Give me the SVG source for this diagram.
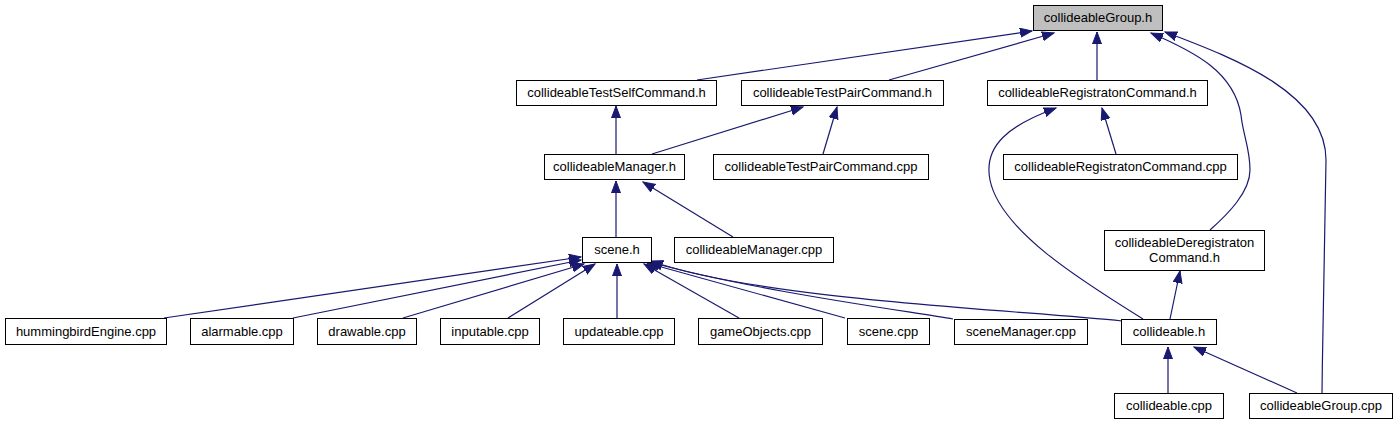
<svg xmlns="http://www.w3.org/2000/svg" width="1397" height="425" viewBox="0 0 1397 425">
<style>
.n rect{fill:#fff;stroke:#000;stroke-width:1}
.n text{font-family:"Liberation Sans",Arial,sans-serif;font-size:13px;text-anchor:middle;fill:#000}
#edges path{fill:none;stroke:#191970;stroke-width:1.2;marker-end:url(#ah)}
</style>
<defs>
<marker id="ah" markerWidth="14" markerHeight="12" refX="12" refY="5" orient="auto" markerUnits="userSpaceOnUse">
<path d="M0,0.5 L12,5 L0,9.5 Z" fill="#191970" stroke="#191970" stroke-width="1"/>
</marker>
</defs>
<rect width="1397" height="425" fill="#fff"/>
<g id="edges">
<path d="M697,80 L1032,31"/>
<path d="M889,80 L1054,33"/>
<path d="M1097,80 L1097,32"/>
<path d="M1210,230 C1228,214 1250,192 1250,170 C1250,148 1243,135 1241,115 C1234,72 1195,52 1151,33"/>
<path d="M1322,393 C1323,300 1326,200 1326,160 C1326,95 1240,60 1165,32"/>
<path d="M616,154 L616,106"/>
<path d="M652,154 L803,107"/>
<path d="M823,154 L837,107"/>
<path d="M1116,154 L1102,108"/>
<path d="M1143,319 C1080,280 1000,230 990,180 C983,145 1010,125 1056,108"/>
<path d="M1170,319 L1180,271"/>
<path d="M616,237 L616,181"/>
<path d="M733,237 L643,182"/>
<path d="M164,318 L581,257"/>
<path d="M293,318 L581,260"/>
<path d="M403,318 L584,264"/>
<path d="M508,318 L595,264"/>
<path d="M617,318 L617,264"/>
<path d="M739,318 L644,264"/>
<path d="M845,318 L647,263"/>
<path d="M953,319 C900,310 750,290 650,262"/>
<path d="M1122,321 C1020,310 760,300 651,261"/>
<path d="M1168,393 L1168,347"/>
<path d="M1297,393 L1194,347"/>
</g>
<g id="collideableGroup_h" class="n"><rect x="1033.5" y="5.5" width="129" height="25" style="fill:#bfbfbf"/><text x="1098" y="22">collideableGroup.h</text></g>
<g id="collideableTestSelfCommand_h" class="n"><rect x="516.5" y="80.5" width="200" height="25"/><text x="616.5" y="97">collideableTestSelfCommand.h</text></g>
<g id="collideableTestPairCommand_h" class="n"><rect x="741.5" y="80.5" width="202" height="25"/><text x="842.5" y="97">collideableTestPairCommand.h</text></g>
<g id="collideableRegistratonCommand_h" class="n"><rect x="987.5" y="80.5" width="220" height="25"/><text x="1097.5" y="97">collideableRegistratonCommand.h</text></g>
<g id="collideableManager_h" class="n"><rect x="544.5" y="154.5" width="140" height="25"/><text x="614.5" y="171">collideableManager.h</text></g>
<g id="collideableTestPairCommand_cpp" class="n"><rect x="713.5" y="154.5" width="215" height="25"/><text x="821" y="171">collideableTestPairCommand.cpp</text></g>
<g id="collideableRegistratonCommand_cpp" class="n"><rect x="1003.5" y="154.5" width="234" height="25"/><text x="1120.5" y="171">collideableRegistratonCommand.cpp</text></g>
<g id="scene_h" class="n"><rect x="582.5" y="237.5" width="69" height="25"/><text x="617" y="254">scene.h</text></g>
<g id="collideableManager_cpp" class="n"><rect x="674.5" y="237.5" width="159" height="25"/><text x="754" y="254">collideableManager.cpp</text></g>
<g id="collideableDeregistratonCommand_h" class="n"><rect x="1104.5" y="230.5" width="160" height="40"/><text x="1184.5" y="247">collideableDeregistraton</text><text x="1184.5" y="262">Command.h</text></g>
<g id="hummingbirdEngine_cpp" class="n"><rect x="5.5" y="318.5" width="161" height="26"/><text x="86" y="336">hummingbirdEngine.cpp</text></g>
<g id="alarmable_cpp" class="n"><rect x="190.5" y="318.5" width="103" height="26"/><text x="242" y="336">alarmable.cpp</text></g>
<g id="drawable_cpp" class="n"><rect x="317.5" y="318.5" width="99" height="26"/><text x="367" y="336">drawable.cpp</text></g>
<g id="inputable_cpp" class="n"><rect x="440.5" y="318.5" width="99" height="26"/><text x="490" y="336">inputable.cpp</text></g>
<g id="updateable_cpp" class="n"><rect x="563.5" y="318.5" width="111" height="26"/><text x="619" y="336">updateable.cpp</text></g>
<g id="gameObjects_cpp" class="n"><rect x="698.5" y="318.5" width="124" height="26"/><text x="760.5" y="336">gameObjects.cpp</text></g>
<g id="scene_cpp" class="n"><rect x="847.5" y="318.5" width="82" height="26"/><text x="888.5" y="336">scene.cpp</text></g>
<g id="sceneManager_cpp" class="n"><rect x="954.5" y="319.5" width="133" height="25"/><text x="1021" y="336">sceneManager.cpp</text></g>
<g id="collideable_h" class="n"><rect x="1121.5" y="319.5" width="95" height="25"/><text x="1169" y="336">collideable.h</text></g>
<g id="collideable_cpp" class="n"><rect x="1114.5" y="393.5" width="109" height="25"/><text x="1169" y="410">collideable.cpp</text></g>
<g id="collideableGroup_cpp" class="n"><rect x="1249.5" y="393.5" width="143" height="25"/><text x="1321" y="410">collideableGroup.cpp</text></g>
</svg>
